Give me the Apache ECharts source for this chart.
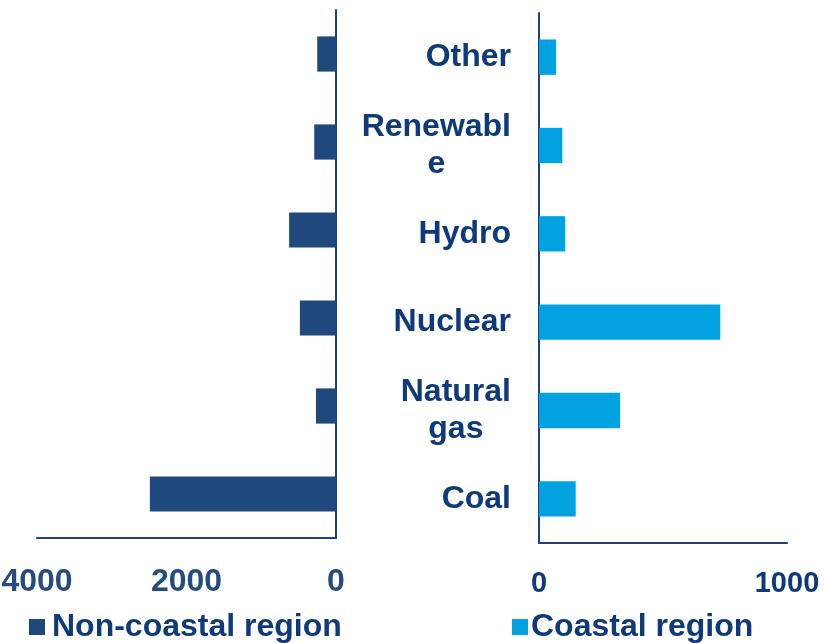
<!DOCTYPE html>
<html>
<head>
<meta charset="utf-8">
<script src="https://cdn.jsdelivr.net/npm/echarts@6/dist/echarts.min.js"></script>
<style>
  html, body { margin: 0; padding: 0; background: #fff; }
  #chart { width: 826px; height: 643px; }
</style>
</head>
<body>
<div id="chart"></div>
<script>
// categories bottom -> top (category axis starts at the bottom)
const categories = ['Coal', 'Natural gas', 'Nuclear', 'Hydro', 'Renewable', 'Other']
// how each label is broken over lines in the source picture
const labelLines = {
  'Coal': ['Coal'],
  'Natural gas': ['Natural', 'gas'],
  'Nuclear': ['Nuclear'],
  'Hydro': ['Hydro'],
  'Renewable': ['Renewabl', 'e'],
  'Other': ['Other']
}
const nonCoastal = [2490, 268, 483, 627, 291, 251]
const coastal = [148, 327, 731, 106, 94, 69]
const leftTicks = [0, 4000, 2000]   // min, max, interval
const rightTicks = [0, 1000, 1000]

const font = "'Liberation Sans', Arial, sans-serif"
const navy = '#0E3A7C'
const axisColor = '#1F3F7F'

const chart = echarts.init(document.getElementById('chart'))

const plain = function (v) { return String(v) }

const option = {
  animation: false,
  legend: [
    {
      data: ['Non-coastal region'],
      left: 24,
      top: 606,
      itemWidth: 16,
      itemHeight: 16,
      icon: 'rect',
      textStyle: { fontFamily: font, fontSize: 32, fontWeight: 'bold', color: navy, padding: [0, 0, 0, 2] }
    },
    {
      data: ['Coastal region'],
      left: 507,
      top: 606,
      itemWidth: 16,
      itemHeight: 16,
      icon: 'rect',
      textStyle: { fontFamily: font, fontSize: 32, fontWeight: 'bold', color: navy, padding: [0, 0, 0, -2] }
    }
  ],
  grid: [
    { left: 37, right: 490, top: 10, bottom: 105, outerBoundsMode: 'none' },
    { left: 539, right: 39, top: 13, bottom: 100, outerBoundsMode: 'none' }
  ],
  xAxis: [
    {
      gridIndex: 0,
      type: 'value',
      inverse: true,
      min: leftTicks[0],
      max: leftTicks[1],
      interval: leftTicks[2],
      splitLine: { show: false },
      axisTick: { show: false },
      axisLine: { show: true, lineStyle: { color: axisColor, width: 2 } },
      axisLabel: {
        margin: 28,
        formatter: plain,
        fontFamily: font,
        fontSize: 32,
        fontWeight: 'bold',
        color: '#254C80'
      }
    },
    {
      gridIndex: 1,
      type: 'value',
      min: rightTicks[0],
      max: rightTicks[1],
      interval: rightTicks[2],
      splitLine: { show: false },
      axisTick: { show: false },
      axisLine: { show: true, lineStyle: { color: axisColor, width: 2 } },
      axisLabel: {
        margin: 26,
        formatter: plain,
        fontFamily: font,
        fontSize: 29,
        fontWeight: 'bold',
        color: navy
      }
    }
  ],
  yAxis: [
    {
      gridIndex: 0,
      type: 'category',
      position: 'right',
      data: categories,
      axisTick: { show: false },
      axisLabel: { show: false },
      axisLine: { show: true, lineStyle: { color: axisColor, width: 2 } }
    },
    {
      gridIndex: 1,
      type: 'category',
      position: 'left',
      data: categories,
      axisTick: { show: false },
      axisLine: { show: true, lineStyle: { color: axisColor, width: 2 } },
      axisLabel: {
        margin: 28,
        formatter: function (value) {
          return labelLines[value].map(function (s) { return '{l|' + s + '}' }).join('\n')
        },
        rich: {
          l: {
            fontFamily: font,
            fontSize: 32,
            fontWeight: 'bold',
            color: navy,
            lineHeight: 37,
            align: 'center'
          }
        }
      }
    }
  ],
  series: [
    {
      name: 'Non-coastal region',
      type: 'bar',
      xAxisIndex: 0,
      yAxisIndex: 0,
      barWidth: '40%',
      itemStyle: { color: '#1F497D' },
      data: nonCoastal
    },
    {
      name: 'Coastal region',
      type: 'bar',
      xAxisIndex: 1,
      yAxisIndex: 1,
      barWidth: '40%',
      itemStyle: { color: '#00A3E0' },
      data: coastal
    }
  ]
}

chart.setOption(option)
</script>
</body>
</html>
